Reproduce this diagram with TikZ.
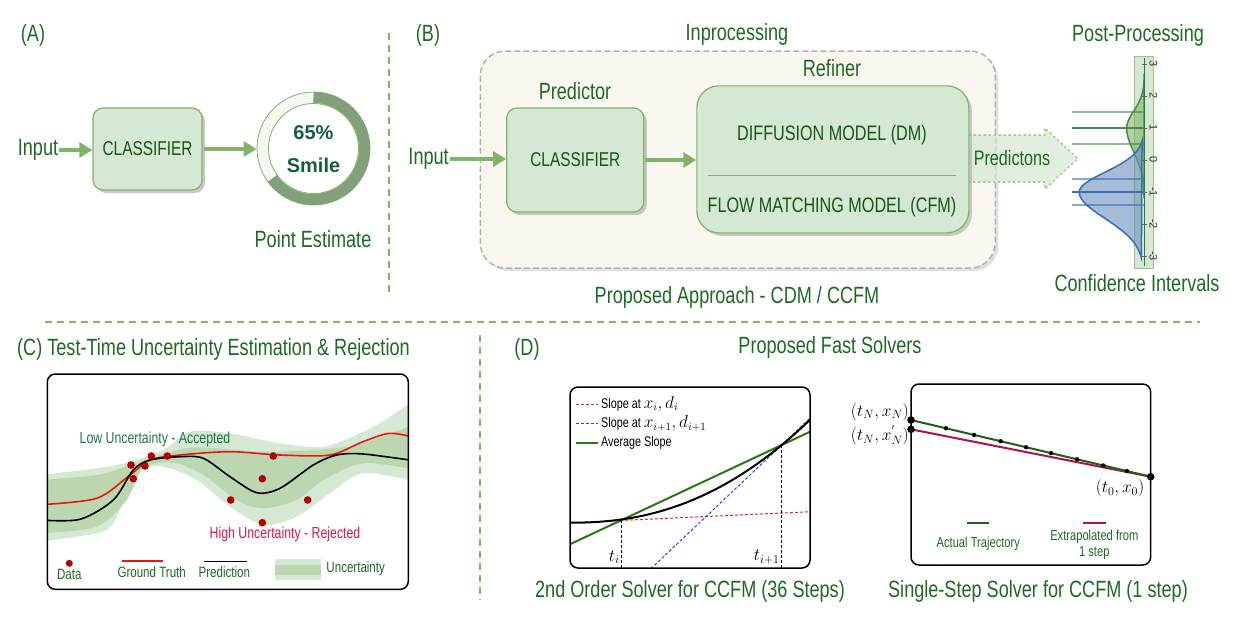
\documentclass[tikz,border=0pt]{standalone}
\usepackage[no-math]{fontspec}
\setmainfont{Liberation Sans}[FakeStretch=0.77]
\newfontfamily\ringfont{Liberation Sans}
\usetikzlibrary{arrows.meta,shadows,calc}
\newcommand\fsz[1]{\fontsize{#1}{#1}\selectfont}
\definecolor{tg}{RGB}{30,105,35}
\definecolor{boxfill}{HTML}{D5E8D4}
\definecolor{boxline}{HTML}{82B366}
\definecolor{cream}{RGB}{249,247,240}
\definecolor{ringdark}{RGB}{130,160,122}
\definecolor{ringlight}{RGB}{243,248,241}
\definecolor{ringtext}{RGB}{20,95,55}
\definecolor{bandlight}{HTML}{D5E8D4}
\definecolor{banddark}{RGB}{188,215,175}
\definecolor{gtred}{RGB}{235,20,20}
\definecolor{datared}{RGB}{178,0,0}
\definecolor{lowtxt}{RGB}{30,120,70}
\definecolor{hightxt}{RGB}{215,25,75}
\definecolor{avgreen}{RGB}{40,120,20}
\definecolor{crim}{RGB}{176,18,80}
\definecolor{distgreen}{RGB}{70,140,80}
\definecolor{distblue}{RGB}{55,110,180}
\definecolor{blufill}{HTML}{6C8EBF}
\definecolor{slopered}{RGB}{215,40,40}
\definecolor{slopeblue}{RGB}{40,70,235}
\begin{document}
\begin{tikzpicture}[x=1pt,y=-1pt,
  lbl/.style={text=tg, inner sep=0pt, font=\fsz{23.5}},
  smalllbl/.style={text=tg, inner sep=0pt, font=\fsz{15}},
  clsbox/.style={draw=boxline, fill=boxfill, line width=1.2pt, rounded corners=10pt,
     text=tg!80!black, font=\fsz{20},
     drop shadow={shadow xshift=3pt,shadow yshift=-3pt,fill=black!30,opacity=.7}},
  garrow/.style={draw=boxline, line width=3.5pt, -{Triangle[length=13pt,width=15pt]}, shorten <=1pt},
  divider/.style={draw=boxline, line width=1.8pt, dash pattern=on 7pt off 5pt},
  plotframe/.style={draw=black, line width=1.5pt, rounded corners=8pt},
  datadot/.style={fill=datared},
  mathlbl/.style={inner sep=0pt, font=\fsz{18}},
  reddash/.style={draw=slopered, line width=1pt, dash pattern=on 3pt off 2pt},
  bluedash/.style={draw=slopeblue, line width=1pt, dash pattern=on 3pt off 2pt}
]
\useasboundingbox (0,0) rectangle (1234,635);
\fill[white] (0,0) rectangle (1234,635);

%================ Panel A
\node[lbl] (labA) at (33,35) {(A)};
\node[lbl] (inA) at (38,150) {Input};
\node[clsbox, minimum width=109pt, minimum height=82pt] (clsA) at (147.5,149) {CLASSIFIER};
\node[circle, draw=boxline, line width=0.8pt, fill=ringlight, minimum size=113pt, inner sep=0pt] (ring) at (313.5,148.5) {};
\fill[white] (ring.center) circle[radius=45pt];
\draw[boxline, line width=.8pt] (ring.center) circle[radius=45pt];
\draw[ringdark, line width=11pt] (ring.center) ++(90:51pt) arc[start angle=90, end angle=-144, radius=51pt];
\node[font=\ringfont\bfseries\fsz{20}, text=ringtext, inner sep=0pt] (pct) at (313.5,133) {65\%};
\node[font=\ringfont\bfseries\fsz{20}, text=ringtext, inner sep=0pt] (smile) at (313.5,165) {Smile};
\node[lbl] (pe) at (313,239) {Point Estimate};
\draw[garrow] (inA.east) -- (inA.east -| clsA.west);
\draw[garrow] (clsA.east) -- (clsA.east -| ring.west);

\draw[divider] (389,33) -- (389,295);

%================ Panel B
\node[lbl] (labB) at (428,35) {(B)};
\node[lbl] (inproc) at (737,34) {Inprocessing};
\node[draw=black!30, line width=1.5pt, dash pattern=on 6pt off 3pt, fill=cream, rounded corners=25pt,
      minimum width=515pt, minimum height=217pt,
      drop shadow={shadow xshift=3pt,shadow yshift=-3pt,fill=black!20,opacity=.6}] (cont) at (737.75,159.5) {};
\node[lbl] (predlbl) at (575,91) {Predictor};
\node[lbl] (reflbl) at (832,68) {Refiner};
\node[lbl] (inB) at (428.6,159) {Input};
\node[clsbox, minimum width=137pt, minimum height=104pt] (clsB) at (575.25,160) {CLASSIFIER};
% predictions arrow
\path[fill=boxfill, fill opacity=.7] (969,135) -- (1045,135) -- (1045,128) -- (1078,158.5) -- (1045,189) -- (1045,182) -- (969,182) -- cycle;
\draw[boxline!70, line width=1.6pt, dash pattern=on 1.5pt off 3.5pt, line cap=round]
   (969,135) -- (1045,135) -- (1045,128) -- (1078,158.5) -- (1045,189) -- (1045,182) -- (969,182);
\node[clsbox, rounded corners=22pt, minimum width=272pt, minimum height=147pt] (ref) at (832.85,159.35) {};
\node[text=tg!80!black, font=\fsz{21}, inner sep=0pt] (dm) at (832,135) {DIFFUSION MODEL (DM)};
\draw[black!40, line width=1pt] (708,175.7) -- (956,175.7);
\node[text=tg!80!black, font=\fsz{21}, inner sep=0pt] (cfm) at (832,207) {FLOW MATCHING MODEL (CFM)};
\node[lbl, font=\fsz{21}] (predt) at (1012,158) {Predictons};
\draw[garrow] (inB.east) -- (inB.east -| clsB.west);
\draw[garrow] (clsB.east) -- (clsB.east -| ref.west);
\node[lbl] (papp) at (737,297) {Proposed Approach - CDM / CCFM};

%================ Post-processing
\node[lbl] (postp) at (1138,35) {Post-Processing};
\draw[fill=boxfill, draw=boxline!80, line width=1pt] (1134,56.7) rectangle (1153,268);
\draw[distgreen, line width=1.5pt, fill=boxline, fill opacity=.6]
  plot[domain=-1.2:1, samples=50, smooth] ({1144.3-17.6*exp(0-((\x-1)*(\x-1))/1.1)}, {160-32*\x})
  -- plot[domain=1:2.7, samples=40, smooth] ({1144.3-17.6*exp(0-((\x-1)*(\x-1))/0.55)}, {160-32*\x}) -- cycle;
\draw[distblue, line width=1.5pt, fill=blufill, fill opacity=.6]
  plot[domain=-3.05:-1, samples=50, smooth] ({1144.3-65*exp(0-((\x+1)*(\x+1))/1.36)}, {160-32*\x})
  -- plot[domain=-1:0.6, samples=40, smooth] ({1144.3-65*exp(0-((\x+1)*(\x+1))/0.76)}, {160-32*\x}) -- cycle;
\foreach \v/\op in {1.5/.6,1/1,0.5/.6} \draw[distgreen, line width=1.5pt, opacity=\op] (1072,160-32*\v) -- (1144.3,160-32*\v);
\foreach \v/\op in {-0.6/.6,-1/1,-1.4/.6} \draw[distblue, line width=1.5pt, opacity=\op] (1072,160-32*\v) -- (1144.3,160-32*\v);
\draw[distgreen!80!black, line width=1.5pt] (1144.3,58) -- (1144.3,266);
\foreach \k in {-3,...,3} {
  \draw[black!60, line width=.6pt] (1142,160-32*\k) -- (1146.5,160-32*\k);
  \node[rotate=-90, font=\ringfont\fsz{11}, text=black!80, inner sep=0pt] at (1153.5,160-32*\k) {\k};
}
\node[lbl] (confi) at (1137,283) {Confidence Intervals};

\draw[divider] (45,322) -- (1200,322);

%================ Panel C
\node[lbl, anchor=west] (labC) at (17,349) {(C) Test-Time Uncertainty Estimation \& Rejection};
\begin{scope}
\clip[rounded corners=8pt] (47.3,374) rectangle (408.3,589.3);
\fill[bandlight] plot[smooth] coordinates {(40,475) (96.7,468.3) (130,461.7) (163.3,450) (190,431.7) (230,433.3) (280,443.3) (323.3,446.7) (363.3,431.7) (390,416.7) (416.7,398.3)}
  -- plot[smooth] coordinates {(416.7,481.7) (363.3,473.3) (330,493.3) (296.7,516.7) (263.3,525) (230,506.7) (196.7,480) (163.3,466.7) (140,470) (130,486.7) (113.3,523.3) (96.7,533.3) (40,541.7)} -- cycle;
\fill[banddark] plot[smooth] coordinates {(40,480) (96.7,475) (130,465) (163.3,454) (196.7,447.3) (263.3,451.7) (323.3,449.3) (363.3,443.3) (416.7,423.3)}
  -- plot[smooth] coordinates {(416.7,470) (363.3,463.3) (323.3,480) (296.7,500) (263.3,508.3) (236.7,500) (203.3,475) (173.3,462.7) (143.3,468.3) (126.7,500) (96.7,526.7) (40,533.3)} -- cycle;
\draw[gtred, line width=1.6pt] plot[smooth] coordinates {(40,504.7) (96.7,498.3) (130,475) (150,460) (180,455) (230,451.7) (280,455) (330,455) (363,441.7) (390,433.3) (416.7,438)};
\draw[black, line width=1.6pt] plot[smooth] coordinates {(40,520) (80,519.3) (113.3,500) (133.3,470) (150,460) (180,456.7) (203.3,458.3) (230,476.7) (256.7,492.7) (280,488.3) (313.3,465) (336.7,455) (363.3,454) (416.7,461)};
\end{scope}
\foreach \p in {(131,465),(133.3,478.7),(145,466),(151.3,456),(167.3,456),(273.3,456),(262.3,478.7),(230.7,500),(307.7,500),(262.3,522.7)}
  \fill[datadot] \p circle[radius=3.8pt];
\node[plotframe, minimum width=361pt, minimum height=215.3pt] (plotC) at (227.8,481.65) {};
\node[text=lowtxt, font=\fsz{16}, inner sep=0pt] (lowt) at (155,439) {Low Uncertainty - Accepted};
\node[text=hightxt, font=\fsz{16}, inner sep=0pt] (hight) at (285,534) {High Uncertainty - Rejected};
% legend
\fill[datadot] (69.3,563.3) circle[radius=3.5pt];
\node[smalllbl] (ldata) at (69.3,574) {Data};
\draw[gtred, line width=1.6pt] (121.7,560.7) -- (163.3,560.7);
\node[smalllbl] (lgt) at (151.7,572.5) {Ground Truth};
\draw[black, line width=1.6pt] (204.3,561.3) -- (246.7,561.3);
\node[smalllbl] (lpred) at (224.3,572.5) {Prediction};
\fill[bandlight] (275,559.3) rectangle (320.7,580);
\fill[banddark] (275,565) rectangle (320.7,575);
\node[smalllbl] (lunc) at (355.7,569) {Uncertainty};

\draw[divider] (480,335) -- (480,600);

%================ Panel D
\node[lbl] (labD) at (527,349) {(D)};
\node[lbl] (pfs) at (830,347) {Proposed Fast Solvers};
% left plot
\begin{scope}
\clip[rounded corners=8pt] (570,387) rectangle (810,568);
\draw[reddash] (565,523) -- (815,511.5);
\draw[bluedash] (640,579) -- (815,413.5);
\draw[avgreen, line width=2pt] (565,546.6) -- (815,429.4);
\draw[black, line width=2pt] (560,522.7) -- plot[domain=0.01:1.1, samples=60, smooth] ({570+240*\x},{522.7-103*\x^2.25});
\draw[black, line width=.8pt, dash pattern=on 3pt off 2pt] (621.7,520) -- (621.7,570);
\draw[black, line width=.8pt, dash pattern=on 3pt off 2pt] (781.7,445) -- (781.7,570);
\end{scope}
\node[plotframe, minimum width=240pt, minimum height=181pt] (plotDL) at (690,477.5) {};
\draw[reddash] (575.7,404) -- (598.3,404);
\node[anchor=west, inner sep=0pt, font=\fsz{14}] (lg1) at (601,404) {Slope at \fsz{16}$x_i, d_i$};
\draw[bluedash] (575.7,423.3) -- (598.3,423.3);
\node[anchor=west, inner sep=0pt, font=\fsz{14}] (lg2) at (601,423.3) {Slope at \fsz{16}$x_{i+1}, d_{i+1}$};
\draw[avgreen, line width=2pt] (575.7,443.3) -- (598.3,443.3);
\node[anchor=west, inner sep=0pt, font=\fsz{14}] (lg3) at (601,443.3) {Average Slope};
\node[mathlbl] (ti) at (614.3,557) {$t_i$};
\node[mathlbl] (ti1) at (766.7,557) {$t_{i+1}$};
\node[lbl] (capL) at (690,591) {2nd Order Solver for CCFM (36 Steps)};
% right plot
\node[plotframe, minimum width=239.7pt, minimum height=181pt] (plotDR) at (1030.85,474.5) {};
\coordinate (TN) at (911,420);
\coordinate (TNp) at (911,429.3);
\coordinate (T0) at (1150.7,476.7);
\draw[crim, line width=2pt] (TNp) -- (T0);
\draw[avgreen!80!black, line width=2pt] (TN) -- (T0);
\foreach \t in {0.146,0.263,0.374,0.48,0.584,0.693,0.802,0.901}
  \fill[black] ($(TN)!\t!(T0)$) circle[radius=2.2pt];
\fill[black] (TN) circle[radius=3.8pt];
\fill[black] (TNp) circle[radius=3.8pt];
\fill[black] (T0) circle[radius=3.8pt];
\node[mathlbl, anchor=east] (lTN) at (909,411.7) {$(t_N, x_N)$};
\node[mathlbl, anchor=east] (lTNp) at (909,435) {$(t_N, x_N^{'})$};
\node[mathlbl] (lT0) at (1120,488.3) {$(t_0, x_0)$};
\draw[avgreen!80!black, line width=2pt] (966.7,522.7) -- (989,522.7);
\node[text=tg, inner sep=0pt, font=\fsz{14.5}] (lat) at (978.3,543.3) {Actual Trajectory};
\draw[crim, line width=2pt] (1083.3,522.7) -- (1106,522.7);
\node[text=tg, inner sep=0pt, font=\fsz{14.5}, align=center] (lex) at (1094.3,544.8) {Extrapolated from\\[1pt]1 step};
\node[lbl] (capR) at (1038,591) {Single-Step Solver for CCFM (1 step)};
\end{tikzpicture}
\end{document}
